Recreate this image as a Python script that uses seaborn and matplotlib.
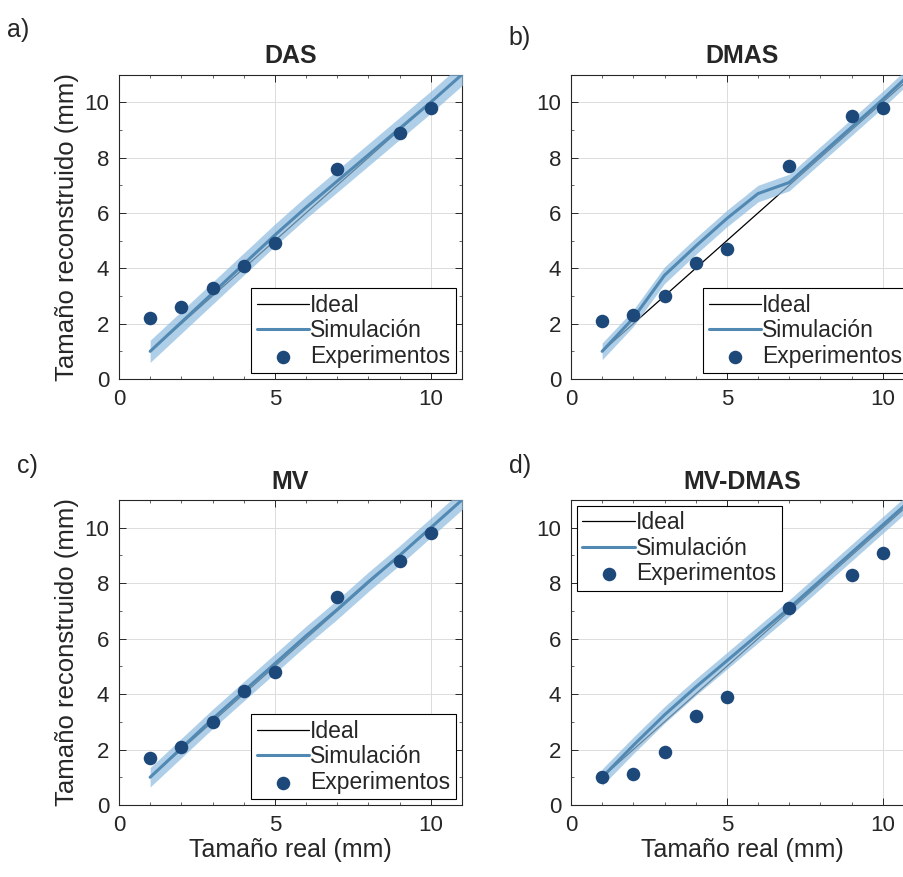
import matplotlib
matplotlib.use("Agg")
import matplotlib.pyplot as plt
from matplotlib.ticker import MultipleLocator
import numpy as np
import pandas as pd
import seaborn as sns

# measured sizes (mm)
exp_x = [1, 2, 3, 4, 5, 7, 9, 10]
das_exp = [2.2, 2.6, 3.3, 4.1, 4.9, 7.6, 8.9, 9.8]
dmas_exp = [2.1, 2.3, 3.0, 4.2, 4.7, 7.7, 9.5, 9.8]
mv_exp = [1.7, 2.1, 3.0, 4.1, 4.8, 7.5, 8.8, 9.8]
mvdmas_exp = [1.0, 1.1, 1.9, 3.2, 3.9, 7.1, 8.3, 9.1]

# simulation curves
sim_x = [1, 2, 3, 4, 5, 6, 7, 8, 9, 10, 11, 12]
ideal_y = [1, 2, 3, 4, 5, 6, 7, 8, 9, 10, 11, 12]
das_sim = [1.0, 2.05, 3.1, 4.15, 5.2, 6.2, 7.15, 8.1, 9.05, 10.0, 11.0, 12.0]
dmas_sim = [1.0, 2.2, 3.75, 4.8, 5.8, 6.7, 7.1, 8.1, 9.1, 10.1, 11.15, 12.2]
mv_sim = [1.0, 2.05, 3.1, 4.1, 5.1, 6.1, 7.05, 8.05, 9.0, 10.0, 11.0, 12.0]
mvdmas_sim = [1.0, 2.15, 3.25, 4.25, 5.2, 6.15, 7.1, 8.1, 9.1, 10.1, 11.1, 12.1]
das_err = 0.4
dmas_err = 0.3
mv_err = 0.35
mvdmas_err = 0.3

titles = ["DAS", "DMAS", "MV", "MV-DMAS"]
letters = ["a)", "b)", "c)", "d)"]

sns.set_theme(style="ticks")
plt.rcParams["font.family"] = ["Liberation Sans", "DejaVu Sans"]

fig = plt.figure(figsize=(9.04, 8.77), dpi=100)

positions = [
    [0.1316, 0.5678, 0.3794, 0.3472],
    [0.6316, 0.5678, 0.3794, 0.3472],
    [0.1316, 0.0821, 0.3794, 0.3478],
    [0.6316, 0.0821, 0.3794, 0.3478],
]
panels = [
    (das_exp, das_sim, das_err, "lower right"),
    (dmas_exp, dmas_sim, dmas_err, "lower right"),
    (mv_exp, mv_sim, mv_err, "lower right"),
    (mvdmas_exp, mvdmas_sim, mvdmas_err, "upper left"),
]
letter_pos = [(0.008, 0.966), (0.563, 0.957), (0.019, 0.469), (0.563, 0.469)]

band_color = "#8DBBE0"
sim_color = "#5289B3"
point_color = "#1D487A"
axis_color = "#262626"

for i, (exp_y, sim_y, err, loc) in enumerate(panels):
    ax = fig.add_axes(positions[i])
    sim_df = pd.DataFrame({"x": sim_x, "ideal": ideal_y, "sim": sim_y})
    exp_df = pd.DataFrame({"x": exp_x, "y": exp_y})
    sim_arr = np.array(sim_y)

    sns.lineplot(data=sim_df, x="x", y="ideal", ax=ax, color="black",
                 lw=0.9, label="Ideal", zorder=2)
    ax.fill_between(sim_x, sim_arr - err, sim_arr + err, color=band_color,
                    alpha=0.7, lw=0, zorder=3)
    sns.lineplot(data=sim_df, x="x", y="sim", ax=ax, color=sim_color,
                 lw=2.2, label="Simulación", zorder=4)
    sns.scatterplot(data=exp_df, x="x", y="y", ax=ax, color=point_color,
                    s=95, edgecolor=point_color, linewidth=0,
                    label="Experimentos", zorder=5)

    ax.set_xlim(0, 11)
    ax.set_ylim(0, 11)
    ax.set_xticks([0, 5, 10])
    ax.set_yticks([0, 2, 4, 6, 8, 10])
    ax.xaxis.set_minor_locator(MultipleLocator(1))
    ax.yaxis.set_minor_locator(MultipleLocator(1))
    ax.tick_params(which="both", direction="in", top=True, right=True,
                   colors=axis_color, labelsize=16, pad=7)
    ax.tick_params(which="major", length=5, width=0.7)
    ax.tick_params(which="minor", length=2.5, width=0.5)
    ax.grid(True, which="major", color="#DCDCDC", lw=0.7)
    ax.set_axisbelow(True)
    for sp in ax.spines.values():
        sp.set_color(axis_color)
        sp.set_linewidth(0.8)

    ax.set_title(titles[i], fontsize=18, fontweight="bold", pad=8)
    if i in (0, 2):
        ax.set_ylabel("Tamaño reconstruido (mm)", fontsize=18.5,
                      color=axis_color, labelpad=4)
    else:
        ax.set_ylabel("")
    if i in (2, 3):
        ax.set_xlabel("Tamaño real (mm)", fontsize=18, color=axis_color,
                      labelpad=2)
    else:
        ax.set_xlabel("")

    leg = ax.legend(loc=loc, fontsize=16.5, frameon=True, fancybox=False,
                    edgecolor="black", framealpha=1, borderpad=0.25,
                    labelspacing=0.1, handlelength=2.3, handletextpad=0.05,
                    borderaxespad=0.25)
    leg.get_frame().set_linewidth(0.8)

    fig.text(letter_pos[i][0], letter_pos[i][1], letters[i], fontsize=18,
             ha="left", va="center")

fig.savefig("out.png", dpi=100)
